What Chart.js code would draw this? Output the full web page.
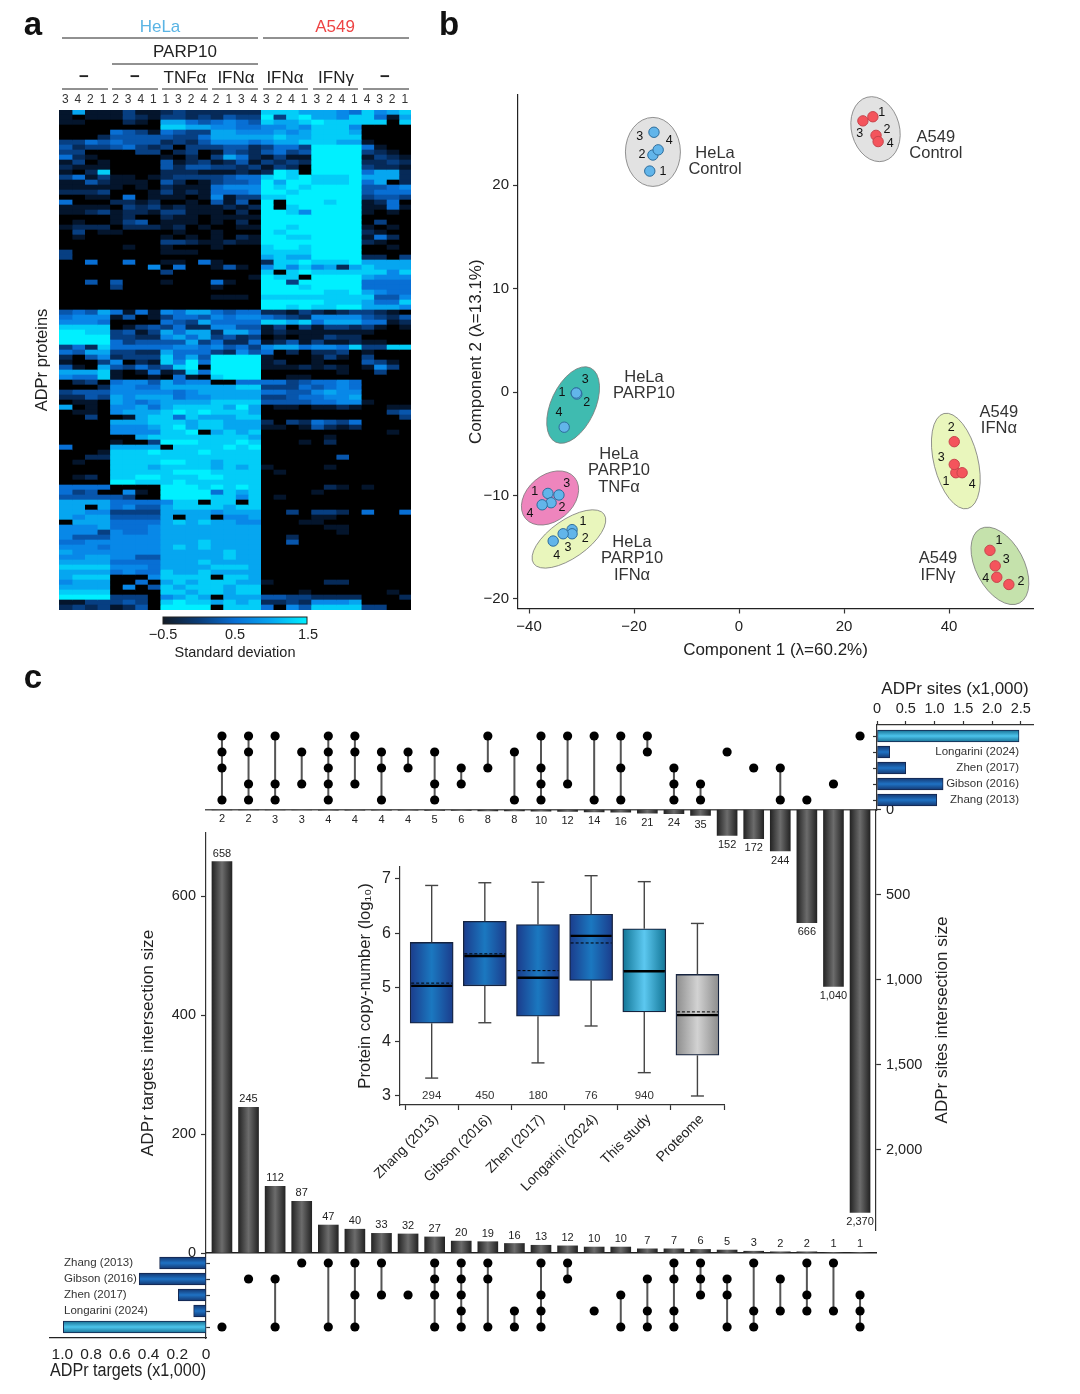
<!DOCTYPE html>
<html>
<head>
<meta charset="utf-8">
<title>ADPr figure</title>
<script src="https://cdn.jsdelivr.net/npm/chart.js@4"></script>
<style>
  html, body { margin: 0; background: #fff; }
  #page { position: relative; width: 1080px; height: 1394px; overflow: hidden; }
  #page canvas { position: absolute; left: 0; top: 0; }
</style>
</head>
<body>
<div id="page"></div>
<script>
/* ---------- data: heatmap (digit = colour level, 7 groups of 4 samples) ---------- */
const sampleLabels = [3,4,2,1, 2,3,4,1, 1,3,2,4, 2,1,3,4, 3,2,4,1, 3,2,4,1, 4,3,2,1];
const heatRows = [
  "1711 1311 2322 2222 8887 7765 8678",
  "1011 1321 3323 2433 9389 7768 8517",
  "1100 0210 7754 5654 8778 9888 8808",
  "0000 0000 8877 6655 6676 8886 0000",
  "0000 5431 5433 7766 6767 8887 0000",
  "0002 4444 4335 7777 7877 8888 0000",
  "3354 5444 2324 6665 6778 8877 1000",
  "4233 4532 3033 3442 3553 9999 5100",
  "3300 0033 0230 1432 4534 9999 3210",
  "5210 0000 1020 3752 1311 9999 1321",
  "1301 0000 4123 1241 3232 9999 2232",
  "2111 0000 4244 3323 1320 9999 3221",
  "1028 0000 2221 1121 2980 9999 5772",
  "3513 1101 2333 3455 8989 8889 7772",
  "1142 1110 4201 3445 9799 8889 5702",
  "1111 1010 2111 5666 9898 9999 4456",
  "2223 0001 3121 5556 9989 9999 4555",
  "0011 0501 1101 6133 8899 9999 3443",
  "5000 2212 0010 4140 9099 9899 1250",
  "1111 0323 1211 1212 9089 9999 1151",
  "1123 1221 3311 1020 9986 9999 1010",
  "0000 1200 2110 1111 9999 9999 0000",
  "0100 1340 1110 1020 9999 9999 0300",
  "1222 0222 1201 0011 9989 9999 1010",
  "0301 1000 0100 1000 9899 9999 2100",
  "0100 0000 1010 1021 9988 9999 1520",
  "0000 0000 3321 1211 9999 9999 2100",
  "0000 0100 1000 1000 8998 9999 0010",
  "3000 0000 1110 0000 8888 9999 0000",
  "3000 0000 0000 0000 7877 9999 2203",
  "0050 0500 1105 1000 2889 8889 7777",
  "0000 0006 0500 1410 6868 6727 8777",
  "0000 0000 3000 0000 8089 8888 8868",
  "0000 0000 0000 0001 9880 9999 7666",
  "0040 4000 1000 5100 9939 9999 5555",
  "0000 3000 0000 1000 9998 9999 5555",
  "0000 0000 0000 0000 9999 9889 7655",
  "0000 0000 0000 1110 8888 8888 8446",
  "0000 0000 0000 0000 9999 9888 7558",
  "0000 0000 0000 0000 9989 8899 7776",
  "4547 5151 6577 5455 2213 2123 3210",
  "5666 1401 3554 6566 5432 6666 4324",
  "6665 0000 5437 5555 8878 5777 5512",
  "8888 0134 3522 6644 1303 1332 3101",
  "9988 3413 7577 2775 1211 1111 1000",
  "9999 3322 6757 3423 0101 1322 0000",
  "9999 5344 4473 5225 1241 3112 1100",
  "3528 5555 5665 6453 6775 6658 3388",
  "5477 3322 7555 3264 5020 2230 1000",
  "2046 2333 8574 9999 1000 1310 3000",
  "1003 6021 8695 9999 1200 1000 4310",
  "4107 4353 4890 9999 1112 1210 1630",
  "7778 1015 1285 9999 0000 0010 0300",
  "6558 1001 0510 8999 0011 0000 0000",
  "0230 5664 7566 0055 5534 5565 0000",
  "0002 6655 7777 7788 3335 4565 0000",
  "3444 6666 6567 7777 5544 6766 0000",
  "2243 7677 7566 7777 3345 5667 0000",
  "0110 7656 7777 8888 4444 5566 1000",
  "7010 6675 7888 8797 0110 1121 0011",
  "0110 6777 8989 8887 0000 0000 0034",
  "0030 0178 8587 7788 0000 0000 0003",
  "0000 7778 8878 8777 2032 5435 0000",
  "0000 6667 8978 8777 1101 4212 0000",
  "0000 6666 8890 7878 0000 0000 0010",
  "0000 0078 8888 8887 0000 0100 0000",
  "0000 1003 9998 8898 0001 0200 0000",
  "5000 7777 0888 8989 0000 0000 0000",
  "0001 8889 8889 8888 0000 0000 0000",
  "0022 8888 8888 8888 0000 0040 0000",
  "0100 8888 9988 7888 0000 0000 0000",
  "0000 8887 8888 7878 1000 0100 0000",
  "0000 8888 8999 8888 0100 0000 0000",
  "0120 8899 8889 9888 0000 0000 0000",
  "0000 9988 8988 8888 0000 0000 0000",
  "5555 0000 9998 9898 0000 0210 1000",
  "5340 0610 9999 5878 0000 1000 0000",
  "4444 4300 9999 8868 0100 0000 0000",
  "7777 5555 6880 8808 0000 0000 0000",
  "7707 5644 7888 8788 0000 0000 0000",
  "7766 3333 7777 6777 0030 3320 5005",
  "7677 4444 7077 0667 0000 1100 0000",
  "0777 5555 7878 7766 0001 1000 0000",
  "6667 5556 7777 7777 0000 0110 0000",
  "6663 6556 7777 7777 0000 0010 0000",
  "6444 6666 7777 7777 0020 0000 0000",
  "5566 6666 7778 7777 0040 0000 0000",
  "6665 6666 7878 7777 0000 0000 0000",
  "7666 6666 7777 7877 0000 0000 0000",
  "6677 6644 7777 7877 0000 0000 0000",
  "7777 5555 7778 7777 0000 0000 0000",
  "8888 6665 7777 8887 0000 0000 0000",
  "7777 5655 8778 7777 0000 0000 0000",
  "7888 0006 8888 0887 0000 0000 0000",
  "6777 0050 7878 8877 1000 0220 0000",
  "7777 0604 8788 8788 0000 0000 0000",
  "8888 0000 8878 8788 0001 0000 0010",
  "9999 3330 6787 0777 4433 2222 0002",
  "1133 3430 8988 7878 2232 6667 0000",
  "2323 1240 9999 0888 5064 8888 3300"
];
const heatColors = ["#000000","#04152c","#062a58","#073f82","#0856ac","#086fd4","#0888e8","#06a6f0","#03cdf8","#00f0ff"];

/* ---------- data: PCA ---------- */
const pcaXTicks = [-40, -20, 0, 20, 40];
const pcaYTicks = [-20, -10, 0, 10, 20];
const helaPointsX = [-17.0,-16.4,-16.2,-15.4, -31.0,-30.9,-31.0,-33.3, -36.4,-34.3,-35.8,-37.5, -31.8,-31.8,-33.5,-35.4];
const helaPointsY = [21.35,22.9,25.1,23.4, -0.1,-0.2,-0.1,-3.4, -9.8,-9.95,-10.7,-10.9, -13.3,-13.7,-13.7,-14.4];
const a549PointsX = [25.5,26.1,23.6,26.5, 41.3,41,41,42.5, 47.8,51.4,48.8,49.1];
const a549PointsY = [26.6,24.8,26.2,24.2, -7.8,-4.8,-7.0,-7.8, -15.3,-18.6,-16.8,-17.9];
const pcaNumberText = ["3","4","2","1", "1","3","2","4", "3","1","2","4", "1","3","2","4", "1","2","3","4", "2","3","1","4", "1","3","4","2"];
const pcaNumberX = [-18.9,-13.3,-18.5,-14.5, 27.2,23.0,28.2,28.8, -29.3,-33.7,-29.0,-34.3, -38.9,-32.8,-33.7,-39.8, -29.7,-29.3,-32.6,-34.7, 40.4,38.5,39.4,44.4, 49.5,50.9,47.0,53.7];
const pcaNumberY = [24.7,24.3,22.9,21.3, 27.05,25.0,25.4,24.0, 1.16,-0.1,-1.06,-2.03, -9.66,-8.89,-11.2,-11.7, -12.56,-14.2,-15.0,-15.85, -3.48,-6.38,-8.7,-8.9, -14.4,-16.2,-18.0,-18.3];
const pcaCaptions = [
  { lines: ["HeLa", "Control"], x: -4.57, y: 23.09 },
  { lines: ["A549", "Control"], x: 37.5, y: 24.64 },
  { lines: ["HeLa", "PARP10"], x: -18.1, y: 1.45 },
  { lines: ["HeLa", "PARP10", "TNFα"], x: -22.86, y: -5.99 },
  { lines: ["HeLa", "PARP10", "IFNα"], x: -20.38, y: -14.49 },
  { lines: ["A549", "IFNα"], x: 49.5, y: -1.93 },
  { lines: ["A549", "IFNγ"], x: 37.9, y: -16.1 }
];
const pcaEllipses = [
  { x: -16.4, y: 23.2, rx: 27.5, ry: 34.5, rot: 0, fill: "#e2e2e2" },
  { x: 26.0, y: 25.4, rx: 24, ry: 33, rot: -15, fill: "#e2e2e2" },
  { x: -31.6, y: -1.26, rx: 22, ry: 41, rot: 25, fill: "#3fbbb0" },
  { x: -36.0, y: -10.24, rx: 32, ry: 23, rot: -40, fill: "#ee85bd" },
  { x: -32.4, y: -14.2, rx: 43, ry: 19, rot: -35, fill: "#e9f6bc" },
  { x: 41.3, y: -6.67, rx: 22, ry: 49, rot: -14, fill: "#e9f6bc" },
  { x: 49.7, y: -16.8, rx: 24, ry: 42, rot: -28, fill: "#c5e2ac" }
];

/* ---------- data: upset ---------- */
const targetSizes = [658,245,112,87,47,40,33,32,27,20,19,16,13,12,10,10,7,7,6,5,3,2,2,1,1];
const siteSizes = [2,2,3,3,4,4,4,4,5,6,8,8,10,12,14,16,21,24,35,152,172,244,666,1040,2370];
// rows top to bottom: This study, Longarini, Zhen, Gibson, Zhang
const siteSets = [[0,1,2,4],[0,1,3,4],[0,3,4],[1,3],[0,1,2,3,4],[0,1,3],[1,2,4],[1,2],[1,3,4],[2,3],[0,2],[1,4],[0,2,3,4],[0,3],[0,4],[0,2,4],[0,1],[2,3,4],[3,4],[1],[2],[2,4],[4],[3],[0]];
// rows top to bottom: Zhang, Gibson, Zhen, Longarini, This study
const targetSets = [[4],[1],[1,4],[0],[0,4],[0,2,4],[0,2],[2],[0,1,2,4],[0,1,2,3,4],[0,1,4],[3,4],[0,2,3,4],[0,1],[3],[2,4],[1,3,4],[0,1,3,4],[0,1,2],[1,2,4],[0,3,4],[1,3],[0,2,3],[0,3],[2,3,4]];
const siteSetNames = ["", "Longarini (2024)", "Zhen (2017)", "Gibson (2016)", "Zhang (2013)"];
const siteSetTotals = [2.47, 0.22, 0.5, 1.15, 1.04];
const targetSetNames = ["Zhang (2013)", "Gibson (2016)", "Zhen (2017)", "Longarini (2024)", ""];
const targetSetTotals = [0.323, 0.465, 0.193, 0.086, 0.993];
const rowTicks = [0, 1, 2, 3, 4];
const targetSizeTicks = [0, 200, 400, 600];
const siteSizeTicks = [0, 500, 1000, 1500, 2000];
const siteTotalTicks = [0, 0.5, 1, 1.5, 2, 2.5];
const targetTotalTicks = [0, 0.2, 0.4, 0.6, 0.8, 1];

/* ---------- data: box plot ---------- */
const boxNames = ["Zhang (2013)", "Gibson (2016)", "Zhen (2017)", "Longarini (2024)", "This study", "Proteome"];
const boxLow = [3.33, 4.35, 3.61, 4.29, 3.43, 3.0];
const boxQ1 = [4.34, 5.03, 4.47, 5.13, 4.55, 3.75];
const boxMedian = [5.03, 5.58, 5.18, 5.95, 5.30, 4.49];
const boxMean = [5.08, 5.62, 5.31, 5.82, 5.31, 4.55];
const boxQ3 = [5.83, 6.22, 6.16, 6.35, 6.08, 5.24];
const boxHigh = [6.88, 6.93, 6.94, 7.06, 6.95, 6.18];
const boxCounts = [294, 450, 180, 76, 940, ""];
const boxTicks = [3, 4, 5, 6, 7];

/* ---------- shared helpers ---------- */
const FONT = '"Liberation Sans", Arial, sans-serif';
const INK = "#222";
Chart.defaults.font.family = FONT;
Chart.defaults.color = INK;
Chart.defaults.animation = false;
Chart.defaults.responsive = false;
Chart.defaults.plugins.legend.display = false;
Chart.defaults.plugins.tooltip.enabled = false;

const page = document.getElementById("page");

function panel(config) {
  const c = document.createElement("canvas");
  c.width = 1080;
  c.height = 1394;
  c.style.width = "1080px";
  c.style.height = "1394px";
  page.appendChild(c);
  return new Chart(c.getContext("2d"), config);
}

const ticksAt = (values) => (axis) => { axis.ticks = values.map((value) => ({ value })); };
const minusSign = (v) => String(v).replace("-", "−");
const thousands = (v) => (v >= 1000 ? String(v).replace(/(\d)(\d{3})$/, "$1,$2") : String(v));
const font = (size) => ({ size, family: FONT, lineHeight: 1.2 });
const axisTitle = (text, size = 17) => ({ display: true, text, font: font(size), color: INK, padding: 0 });
const hiddenGrid = { display: false, drawTicks: false };
const tickMarks = (tickLength = 5) => ({ display: true, offset: false, drawOnChartArea: false, drawTicks: true, tickLength, tickColor: "#333", tickWidth: 1.2 });

function gradient(chart, horizontal, a, b, stops) {
  const g = horizontal ? chart.ctx.createLinearGradient(a, 0, b, 0) : chart.ctx.createLinearGradient(0, a, 0, b);
  stops.forEach((s, i) => g.addColorStop(i / (stops.length - 1), s));
  return g;
}

// text and rules that belong to the page, not to a scale
function pageNotes(id, texts, rules = []) {
  return {
    id,
    afterDraw(chart) {
      const ctx = chart.ctx;
      ctx.save();
      rules.forEach((r) => {
        ctx.strokeStyle = r.color || "#222";
        ctx.lineWidth = r.w || 1;
        ctx.beginPath();
        ctx.moveTo(r.x0, r.y0);
        ctx.lineTo(r.x1, r.y1);
        ctx.stroke();
      });
      texts.forEach((t) => {
        ctx.save();
        ctx.translate(t.x, t.y);
        if (t.rot) ctx.rotate((t.rot * Math.PI) / 180);
        ctx.font = `${t.weight || "normal"} ${t.size}px ${FONT}`;
        ctx.fillStyle = t.color || INK;
        ctx.textAlign = t.align || "center";
        ctx.textBaseline = "middle";
        ctx.fillText(t.text, 0, 0);
        ctx.restore();
      });
      ctx.restore();
    }
  };
}

/* ========================= */
/* a: HEATMAP                */
/* ========================= */
const cleanRows = heatRows.map((r) => r.replace(/ /g, ""));
const headerRules = [
  [62,258,38],[263,409,38],[112,258,64],
  [62,108,89],[112,158,89],[162,208,89],[212,258,89],[263,308,89],[313,358,89],[363,409,89]
].map(([x0, x1, y]) => ({ x0, x1, y0: y, y1: y, color: "#222" }));
const headerTexts = [
  { text: "HeLa", x: 160, y: 27, size: 17, color: "#5ab4e4" },
  { text: "A549", x: 335, y: 27, size: 17, color: "#ee4444" },
  { text: "PARP10", x: 185, y: 52, size: 17 },
  { text: "−", x: 84, y: 77, size: 17, weight: "bold" },
  { text: "−", x: 135, y: 77, size: 17, weight: "bold" },
  { text: "TNFα", x: 185, y: 78, size: 17 },
  { text: "IFNα", x: 236, y: 78, size: 17 },
  { text: "IFNα", x: 285, y: 78, size: 17 },
  { text: "IFNγ", x: 336, y: 78, size: 17 },
  { text: "−", x: 385, y: 77, size: 17, weight: "bold" },
  { text: "−0.5", x: 163, y: 635, size: 14.5 },
  { text: "0.5", x: 235, y: 635, size: 14.5 },
  { text: "1.5", x: 308, y: 635, size: 14.5 },
  { text: "Standard deviation", x: 235, y: 653, size: 14.5 },
  { text: "a", x: 33, y: 26, size: 33, weight: "bold", color: "#111" },
  { text: "b", x: 449, y: 26, size: 33, weight: "bold", color: "#111" },
  { text: "c", x: 33, y: 679, size: 33, weight: "bold", color: "#111" }
];

const heatBackdrop = {
  id: "heatBackdrop",
  beforeDatasetsDraw(chart) {
    const a = chart.chartArea;
    chart.ctx.fillStyle = "#000";
    chart.ctx.fillRect(a.left, a.top, a.width, a.height);
  },
  afterDraw(chart) {
    const ctx = chart.ctx;
    ctx.fillStyle = gradient(chart, true, 163, 307, ["#141c26", "#0a3c78", "#086fd4", "#06a6f0", "#00f0ff"]);
    ctx.fillRect(163, 617, 144, 7);
    ctx.strokeStyle = "#222";
    ctx.lineWidth = 1;
    ctx.strokeRect(163, 617, 144, 7);
  }
};

panel({
  type: "bar",
  data: {
    labels: cleanRows.map((_, i) => i),
    datasets: sampleLabels.map((_, col) => ({
      data: cleanRows.map(() => [col, col + 1.04]),
      backgroundColor: (ctx) => heatColors[+cleanRows[ctx.dataIndex][col]],
      borderWidth: 0,
      grouped: false,
      barPercentage: 1,
      categoryPercentage: 1
    }))
  },
  options: {
    indexAxis: "y",
    layout: { padding: { left: 33, top: 94, right: 1080 - 411, bottom: 1394 - 610 } },
    scales: {
      x: {
        type: "linear", position: "top", min: 0, max: 28,
        afterBuildTicks: ticksAt(sampleLabels.map((_, i) => i + 0.5)),
        afterFit: (s) => { s.height = 16; },
        grid: hiddenGrid, border: { display: false },
        ticks: {
          autoSkip: false, maxRotation: 0, padding: 3, font: font(12), color: "#333",
          callback: (v) => sampleLabels[v - 0.5]
        }
      },
      y: {
        afterFit: (s) => { s.width = 26; },
        grid: hiddenGrid, border: { display: false },
        ticks: { display: false },
        title: axisTitle("ADPr proteins", 16.5)
      }
    }
  },
  plugins: [heatBackdrop, pageNotes("headerNotes", headerTexts, headerRules)]
});

/* ========================= */
/* b: PCA                    */
/* ========================= */
const pcaDecor = {
  id: "pcaDecor",
  beforeDatasetsDraw(chart) {
    const { x, y } = chart.scales;
    const ctx = chart.ctx;
    pcaEllipses.forEach((e) => {
      ctx.beginPath();
      ctx.ellipse(x.getPixelForValue(e.x), y.getPixelForValue(e.y), e.rx, e.ry, (e.rot * Math.PI) / 180, 0, 2 * Math.PI);
      ctx.fillStyle = e.fill;
      ctx.fill();
      ctx.strokeStyle = "#777";
      ctx.lineWidth = 0.8;
      ctx.stroke();
    });
  },
  afterDatasetsDraw(chart) {
    const { x, y } = chart.scales;
    const ctx = chart.ctx;
    ctx.textAlign = "center";
    ctx.textBaseline = "middle";
    ctx.fillStyle = "#111";
    ctx.font = `12.5px ${FONT}`;
    pcaNumberText.forEach((n, i) => {
      ctx.fillText(n, x.getPixelForValue(pcaNumberX[i]), y.getPixelForValue(pcaNumberY[i]));
    });
    ctx.fillStyle = "#333";
    ctx.font = `16.5px ${FONT}`;
    pcaCaptions.forEach((c) => {
      c.lines.forEach((line, i) => {
        ctx.fillText(line, x.getPixelForValue(c.x), y.getPixelForValue(c.y) + i * 16.8);
      });
    });
  }
};

panel({
  type: "scatter",
  data: {
    datasets: [
      {
        data: helaPointsX.map((x, i) => ({ x, y: helaPointsY[i] })),
        pointRadius: 5.2, pointBackgroundColor: "#62b5ea", pointBorderColor: "#2d6d9c", pointBorderWidth: 1
      },
      {
        data: a549PointsX.map((x, i) => ({ x, y: a549PointsY[i] })),
        pointRadius: 5.2, pointBackgroundColor: "#f4545c", pointBorderColor: "#c8444c", pointBorderWidth: 1
      }
    ]
  },
  options: {
    layout: { padding: { left: 466, top: 95, right: 1080 - 1033, bottom: 1394 - 661 } },
    scales: {
      x: {
        min: -42.1, max: 56,
        afterBuildTicks: ticksAt(pcaXTicks),
        afterFit: (s) => { s.height = 52.5; },
        grid: tickMarks(),
        border: { color: "#222", width: 1.2 },
        ticks: { font: font(15), color: INK, padding: 4, maxRotation: 0, callback: minusSign },
        title: axisTitle("Component 1 (λ=60.2%)")
      },
      y: {
        min: -20.92, max: 28.7,
        afterBuildTicks: ticksAt(pcaYTicks),
        afterFit: (s) => { s.width = 52; },
        grid: tickMarks(),
        border: { color: "#222", width: 1.2 },
        ticks: { font: font(15), color: INK, padding: 4, callback: minusSign },
        title: axisTitle("Component 2 (λ=13.1%)")
      }
    }
  },
  plugins: [pcaDecor]
});

/* ========================= */
/* c: UPSET BARS             */
/* ========================= */
const COLUMN_MIN = -0.6, COLUMN_MAX = 24.6;

function barValueLabels(id, offset) {
  return {
    id,
    afterDatasetsDraw(chart) {
      const ctx = chart.ctx;
      ctx.font = `11px ${FONT}`;
      ctx.fillStyle = INK;
      ctx.textAlign = "center";
      ctx.textBaseline = "middle";
      chart.getDatasetMeta(0).data.forEach((bar, i) => {
        ctx.fillText(thousands(chart.data.datasets[0].data[i].y), bar.x, bar.y + offset);
      });
    }
  };
}

const darkBar = (ctx) => {
  if (ctx.type !== "data") return "#333";
  const cx = ctx.chart.scales.x.getPixelForValue(ctx.dataIndex);
  if (!Number.isFinite(cx)) return "#333";
  return gradient(ctx.chart, true, cx - 10, cx + 10, ["#242424", "#6c6c6c", "#242424"]);
};

// sites intersection size, hanging from the top baseline
panel({
  type: "bar",
  data: {
    datasets: [{
      data: siteSizes.map((y, x) => ({ x, y })),
      backgroundColor: darkBar, borderWidth: 0, barThickness: 20
    }]
  },
  options: {
    layout: { padding: { left: 206, top: 809.5, right: 1080 - 876 - 50, bottom: 1394 - 1230 } },
    scales: {
      x: {
        type: "linear", position: "top", offset: false, min: COLUMN_MIN, max: COLUMN_MAX,
        afterFit: (s) => { s.height = 0; },
        grid: hiddenGrid, ticks: { display: false },
        border: { color: "#555", width: 1.6 }
      },
      y: {
        position: "right", reverse: true, min: 0, max: 2473,
        afterBuildTicks: ticksAt(siteSizeTicks),
        afterFit: (s) => { s.width = 50; },
        grid: tickMarks(),
        border: { color: "#333", width: 1.2 },
        ticks: { font: font(14.5), color: INK, padding: 5, callback: thousands }
      }
    }
  },
  plugins: [
    barValueLabels("siteValues", 9.5),
    pageNotes("siteTitle", [{ text: "ADPr sites intersection size", x: 942, y: 1020, size: 17, rot: -90 }])
  ]
});

// targets intersection size, standing on the lower baseline
panel({
  type: "bar",
  data: {
    datasets: [{
      data: targetSizes.map((y, x) => ({ x, y })),
      backgroundColor: darkBar, borderWidth: 0, barThickness: 20
    }]
  },
  options: {
    layout: { padding: { left: 138, top: 833, right: 1080 - 876, bottom: 1394 - 1253 } },
    scales: {
      x: {
        type: "linear", offset: false, min: COLUMN_MIN, max: COLUMN_MAX,
        afterFit: (s) => { s.height = 0; },
        grid: hiddenGrid, ticks: { display: false },
        border: { color: "#222", width: 1.6 }
      },
      y: {
        min: 0, max: 705.9,
        afterBuildTicks: ticksAt(targetSizeTicks),
        afterFit: (s) => { s.width = 68; },
        grid: tickMarks(),
        border: { color: "#333", width: 1.2 },
        ticks: { font: font(14.5), color: INK, padding: 5 },
        title: axisTitle("ADPr targets intersection size", 17.2)
      }
    }
  },
  plugins: [barValueLabels("targetValues", -8)]
});

/* ========================= */
/* c: UPSET DOT MATRICES     */
/* ========================= */
function dotMatrix(sets, top, rowMin, rowMax) {
  return panel({
    type: "scatter",
    data: {
      datasets: sets.map((rows, col) => ({
        data: rows.map((y) => ({ x: col, y })),
        showLine: true,
        borderColor: "#555",
        borderWidth: 2,
        pointRadius: 4.6,
        pointBackgroundColor: "#000",
        pointBorderWidth: 0
      }))
    },
    options: {
      layout: { padding: { left: 206, top, right: 1080 - 876, bottom: 1394 - top - 85 } },
      scales: {
        x: { display: false, min: COLUMN_MIN, max: COLUMN_MAX },
        y: { display: false, reverse: true, min: rowMin, max: rowMax }
      }
    }
  });
}
dotMatrix(siteSets, 725, -0.6875, 4.625);
dotMatrix(targetSets, 1253, -0.625, 4.6875);

/* ========================= */
/* c: SET SIZE BARS          */
/* ========================= */
const BLUE_BAR = ["#14366f", "#1f72c4", "#14366f"];
const CYAN_BAR = ["#176f92", "#4cc4ec", "#176f92"];

const setBarFill = (ctx, studyRow) => {
  if (ctx.type !== "data") return "#1f72c4";
  const cy = ctx.chart.scales.y.getPixelForValue(ctx.dataIndex);
  if (!Number.isFinite(cy)) return "#1f72c4";
  const stops = ctx.dataIndex === studyRow ? CYAN_BAR : BLUE_BAR;
  return gradient(ctx.chart, false, cy - 6, cy + 6, stops);
};

function setNamesPlugin(id, names, x, align) {
  return {
    id,
    afterDatasetsDraw(chart) {
      const ctx = chart.ctx;
      ctx.font = `11.5px ${FONT}`;
      ctx.fillStyle = "#333";
      ctx.textAlign = align;
      ctx.textBaseline = "middle";
      names.forEach((n, i) => ctx.fillText(n, x, chart.scales.y.getPixelForValue(i)));
    }
  };
}

// sites per study
panel({
  type: "bar",
  data: {
    datasets: [{
      data: siteSetTotals.map((x, y) => ({ x, y })),
      backgroundColor: (ctx) => setBarFill(ctx, 0),
      borderColor: "#14264e", borderWidth: 1, barThickness: 12, borderSkipped: false
    }]
  },
  options: {
    indexAxis: "y",
    layout: { padding: { left: 877 - 5, top: 678.8, right: 1080 - 1033, bottom: 1394 - 810 } },
    scales: {
      x: {
        type: "linear", position: "top", min: 0, max: 2.713,
        afterBuildTicks: ticksAt(siteTotalTicks),
        afterFit: (s) => { s.height = 46.2; },
        grid: tickMarks(4),
        border: { color: "#333", width: 1.2 },
        ticks: { font: font(14.5), color: INK, padding: 3, maxRotation: 0, callback: (v) => (v ? v.toFixed(1) : "0") },
        title: axisTitle("ADPr sites (x1,000)")
      },
      y: {
        type: "linear", reverse: true, offset: false, min: -0.6875, max: 4.625,
        afterBuildTicks: ticksAt(rowTicks),
        afterFit: (s) => { s.width = 5; },
        grid: tickMarks(4),
        border: { color: "#333", width: 1.2 },
        ticks: { display: false }
      }
    }
  },
  plugins: [setNamesPlugin("siteNames", siteSetNames, 1019, "right")]
});

// targets per study, growing leftwards
panel({
  type: "bar",
  data: {
    datasets: [{
      data: targetSetTotals.map((x, y) => ({ x, y })),
      backgroundColor: (ctx) => setBarFill(ctx, 4),
      borderColor: "#14264e", borderWidth: 1, barThickness: 12, borderSkipped: false
    }]
  },
  options: {
    indexAxis: "y",
    layout: { padding: { left: 50, top: 1253, right: 1080 - 206 - 5, bottom: 1394 - 1382 } },
    scales: {
      x: {
        type: "linear", reverse: true, min: 0, max: 1.086,
        afterBuildTicks: ticksAt(targetTotalTicks),
        afterFit: (s) => { s.height = 44; },
        grid: hiddenGrid,
        border: { color: "#222", width: 1.2 },
        ticks: { font: font(15.5), color: INK, padding: 7, maxRotation: 0, callback: (v) => (v ? v.toFixed(1) : "0") },
        title: axisTitle("ADPr targets (x1,000)", 18)
      },
      y: {
        type: "linear", position: "right", reverse: true, offset: false, min: -0.625, max: 4.6875,
        afterBuildTicks: ticksAt(rowTicks),
        afterFit: (s) => { s.width = 5; },
        grid: tickMarks(4),
        border: { color: "#333", width: 1.2 },
        ticks: { display: false }
      }
    }
  },
  plugins: [setNamesPlugin("targetNames", targetSetNames, 64, "left")]
});

/* ========================= */
/* c: INSET BOX PLOT         */
/* ========================= */
const boxStops = [
  ["#1b3c8c", "#1b78c0", "#1b3c8c"],
  ["#1b3c8c", "#1b78c0", "#1b3c8c"],
  ["#1b3c8c", "#1b78c0", "#1b3c8c"],
  ["#1b3c8c", "#1b78c0", "#1b3c8c"],
  ["#127596", "#5cc8f0", "#127596"],
  ["#8c8c8c", "#d2d2d2", "#8c8c8c"]
];

const boxMarks = {
  id: "boxMarks",
  afterDatasetsDraw(chart) {
    const { x, y } = chart.scales;
    const ctx = chart.ctx;
    const line = (x0, y0, x1, y1) => {
      ctx.beginPath();
      ctx.moveTo(x0, y0);
      ctx.lineTo(x1, y1);
      ctx.stroke();
    };
    boxNames.forEach((_, i) => {
      const cx = x.getPixelForValue(i);
      ctx.strokeStyle = "#444";
      ctx.lineWidth = 1.4;
      line(cx, y.getPixelForValue(boxHigh[i]), cx, y.getPixelForValue(boxQ3[i]));
      line(cx, y.getPixelForValue(boxQ1[i]), cx, y.getPixelForValue(boxLow[i]));
      line(cx - 6.5, y.getPixelForValue(boxHigh[i]), cx + 6.5, y.getPixelForValue(boxHigh[i]));
      line(cx - 6.5, y.getPixelForValue(boxLow[i]), cx + 6.5, y.getPixelForValue(boxLow[i]));
      ctx.strokeStyle = "#000";
      ctx.lineWidth = 1;
      ctx.setLineDash([3, 2]);
      line(cx - 20.5, y.getPixelForValue(boxMean[i]), cx + 20.5, y.getPixelForValue(boxMean[i]));
      ctx.setLineDash([]);
      ctx.lineWidth = 2.4;
      line(cx - 20.5, y.getPixelForValue(boxMedian[i]), cx + 20.5, y.getPixelForValue(boxMedian[i]));
      ctx.font = `11.5px ${FONT}`;
      ctx.fillStyle = "#333";
      ctx.textAlign = "center";
      ctx.textBaseline = "middle";
      ctx.fillText(boxCounts[i], cx, y.getPixelForValue(3));
    });
  }
};

panel({
  type: "bar",
  data: {
    datasets: [{
      xAxisID: "x",
      data: boxNames.map((_, i) => ({ x: i, y: [boxQ1[i], boxQ3[i]] })),
      backgroundColor: (ctx) => {
        if (ctx.type !== "data") return "#1b78c0";
        const cx = ctx.chart.scales.x.getPixelForValue(ctx.dataIndex);
        if (!Number.isFinite(cx)) return "#1b78c0";
        return gradient(ctx.chart, true, cx - 21.5, cx + 21.5, boxStops[ctx.dataIndex]);
      },
      borderColor: "#15233f",
      borderWidth: 1.3,
      borderSkipped: false,
      barThickness: 43
    }]
  },
  options: {
    layout: { padding: { left: 355, top: 867, right: 1080 - 724, bottom: 1394 - 1105 - 95 } },
    scales: {
      x: {
        type: "linear", offset: false, min: -0.596, max: 5.5, weight: 0,
        afterBuildTicks: ticksAt([-0.5, 0.5, 1.5, 2.5, 3.5, 4.5, 5.5]),
        afterFit: (s) => { s.height = 0; },
        grid: tickMarks(),
        border: { color: "#333", width: 1.2 },
        ticks: { display: false }
      },
      names: {
        axis: "x", type: "linear", position: "bottom", offset: false, min: -0.68, max: 5.416, weight: 1,
        afterBuildTicks: ticksAt(boxNames.map((_, i) => i)),
        afterFit: (s) => { s.height = 95; },
        grid: hiddenGrid,
        border: { display: false },
        ticks: {
          font: font(14), color: INK, padding: 6, minRotation: 45, maxRotation: 45, autoSkip: false,
          callback: (v) => boxNames[v]
        }
      },
      y: {
        min: 2.834, max: 7.22,
        afterBuildTicks: ticksAt(boxTicks),
        afterFit: (s) => { s.width = 45; },
        grid: tickMarks(),
        border: { color: "#333", width: 1.2 },
        ticks: { font: font(16), color: INK, padding: 4 },
        title: axisTitle("Protein copy-number (log₁₀)", 16.7)
      }
    }
  },
  plugins: [boxMarks]
});
</script>
</body>
</html>
